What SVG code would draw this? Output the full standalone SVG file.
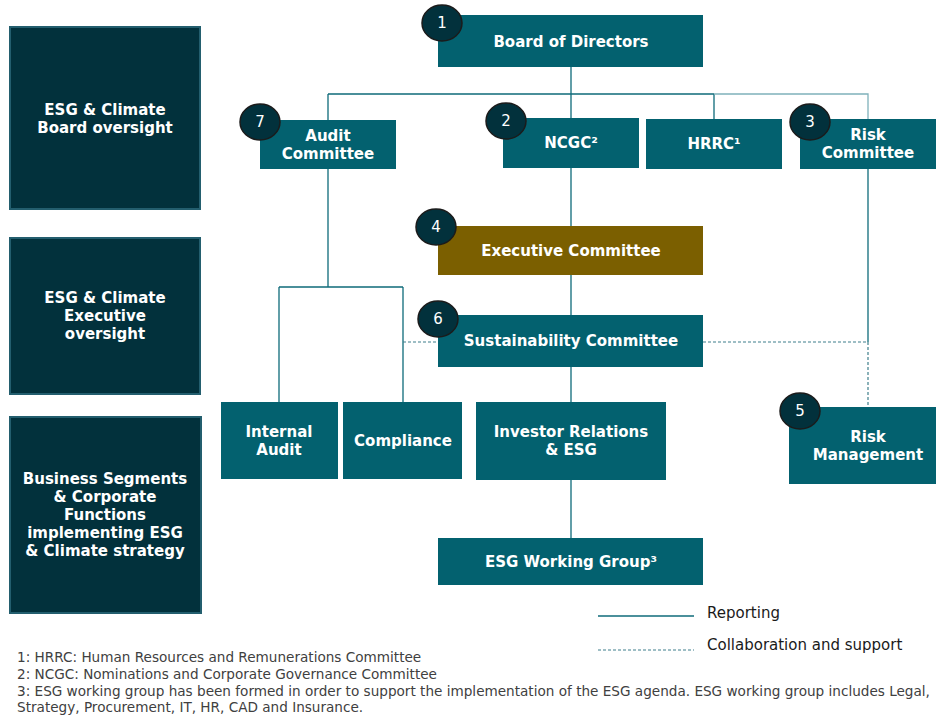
<svg xmlns="http://www.w3.org/2000/svg" width="936" height="726" viewBox="0 0 936 726">
<style>
.side{fill:#02313c;stroke:#235e6e;stroke-width:2}
.box{fill:#03616f}
.exec{fill:#7b5f00}
.t{font-family:"DejaVu Sans",Verdana,sans-serif;font-weight:bold;font-size:15px;fill:#ffffff;text-anchor:middle}
.num{fill:#02313c;stroke:#1b1b1b;stroke-width:1.5}
.n{font-family:"DejaVu Sans",Verdana,sans-serif;font-size:15px;fill:#ffffff;text-anchor:middle}
.ln{stroke:#0f6b7a;stroke-width:1.3;fill:none}
.lnl{stroke:#7fb1ba;stroke-width:1.3;fill:none}
.dash{stroke:#3f7f8b;stroke-width:1.2;stroke-dasharray:3 2;fill:none}
.leg{font-family:"DejaVu Sans",Verdana,sans-serif;font-size:15px;fill:#1a1a1a}
.fn{font-family:"DejaVu Sans",Verdana,sans-serif;font-size:13.6px;fill:#404040}
</style>
<rect width="936" height="726" fill="#ffffff"/>
<g id="connectors">
<path class="ln" d="M571 67V94M328 94H714M328 94V120M571 94V118M714 94V119"/>
<path class="lnl" d="M714 94H868V119"/>
<path class="ln" d="M571 168V226M571 275V315M571 367V402M571 480V538"/>
<path class="ln" d="M328 169V287M279 287H403M279 287V402M403 287V402"/>
<path class="ln" d="M868 169V342"/>
<path class="dash" d="M403 342H438M703 342H868V407"/>
</g>
<g id="side-board"><rect class="side" x="10" y="27" width="190" height="182"/>
<text class="t" x="105" y="110" dy=".36em">ESG &amp; Climate</text><text class="t" x="105" y="128" dy=".36em">Board oversight</text></g>
<g id="side-exec"><rect class="side" x="10" y="238" width="190" height="156"/>
<text class="t" x="105" y="298" dy=".36em">ESG &amp; Climate</text><text class="t" x="105" y="316" dy=".36em">Executive</text><text class="t" x="105" y="334" dy=".36em">oversight</text></g>
<g id="side-business"><rect class="side" x="10" y="417" width="191" height="196"/>
<text class="t" x="105" y="479" dy=".36em">Business Segments</text><text class="t" x="105" y="497" dy=".36em">&amp; Corporate</text><text class="t" x="105" y="515" dy=".36em">Functions</text><text class="t" x="105" y="533" dy=".36em">implementing ESG</text><text class="t" x="105" y="551" dy=".36em">&amp; Climate strategy</text></g>
<g id="board"><rect class="box" x="438" y="15" width="265" height="52"/><text class="t" x="571" y="42" dy=".36em">Board of Directors</text>
<ellipse class="num" cx="442" cy="23" rx="20" ry="18"/><text class="n" x="442" y="23" dy=".36em">1</text></g>
<g id="audit-committee"><rect class="box" x="260" y="120" width="136" height="49"/><text class="t" x="328" y="136" dy=".36em">Audit</text><text class="t" x="328" y="154" dy=".36em">Committee</text>
<ellipse class="num" cx="260" cy="122" rx="20" ry="18"/><text class="n" x="260" y="122" dy=".36em">7</text></g>
<g id="ncgc"><rect class="box" x="503" y="118" width="136" height="50"/><text class="t" x="571" y="143" dy=".36em">NCGC²</text>
<ellipse class="num" cx="506" cy="121" rx="20" ry="18"/><text class="n" x="506" y="121" dy=".36em">2</text></g>
<g id="hrrc"><rect class="box" x="646" y="119" width="136" height="50"/><text class="t" x="714" y="144" dy=".36em">HRRC¹</text></g>
<g id="risk-committee"><rect class="box" x="800" y="119" width="136" height="50"/><text class="t" x="868" y="135" dy=".36em">Risk</text><text class="t" x="868" y="153" dy=".36em">Committee</text>
<ellipse class="num" cx="810" cy="122" rx="20" ry="18"/><text class="n" x="810" y="122" dy=".36em">3</text></g>
<g id="executive-committee"><rect class="exec" x="438" y="226" width="265" height="49"/><text class="t" x="571" y="251" dy=".36em">Executive Committee</text>
<ellipse class="num" cx="436" cy="227" rx="20" ry="18"/><text class="n" x="436" y="227" dy=".36em">4</text></g>
<g id="sustainability-committee"><rect class="box" x="438" y="315" width="265" height="52"/><text class="t" x="571" y="341" dy=".36em">Sustainability Committee</text>
<ellipse class="num" cx="438" cy="319" rx="20" ry="18"/><text class="n" x="438" y="319" dy=".36em">6</text></g>
<g id="internal-audit"><rect class="box" x="221" y="402" width="117" height="77"/><text class="t" x="279" y="432" dy=".36em">Internal</text><text class="t" x="279" y="450" dy=".36em">Audit</text></g>
<g id="compliance"><rect class="box" x="343" y="402" width="119" height="77"/><text class="t" x="403" y="441" dy=".36em">Compliance</text></g>
<g id="investor-relations"><rect class="box" x="476" y="402" width="190" height="78"/><text class="t" x="571" y="432" dy=".36em">Investor Relations</text><text class="t" x="571" y="450" dy=".36em">&amp; ESG</text></g>
<g id="risk-management"><rect class="box" x="789" y="407" width="147" height="77"/><text class="t" x="868" y="437" dy=".36em">Risk</text><text class="t" x="868" y="455" dy=".36em">Management</text>
<ellipse class="num" cx="800" cy="411" rx="20" ry="18"/><text class="n" x="800" y="411" dy=".36em">5</text></g>
<g id="esg-working-group"><rect class="box" x="438" y="538" width="265" height="47"/><text class="t" x="571" y="562" dy=".36em">ESG Working Group³</text></g>
<g id="legend">
<line class="ln" x1="598" y1="616" x2="694" y2="616"/><text class="leg" x="707" y="613" dy=".35em">Reporting</text>
<line class="dash" x1="598" y1="650" x2="694" y2="650"/><text class="leg" x="707" y="645" dy=".35em">Collaboration and support</text>
</g>
<g id="footnotes">
<text class="fn" x="17" y="662">1: HRRC: Human Resources and Remunerations Committee</text>
<text class="fn" x="17" y="679">2: NCGC: Nominations and Corporate Governance Committee</text>
<text class="fn" x="17" y="696">3: ESG working group has been formed in order to support the implementation of the ESG agenda. ESG working group includes Legal,</text>
<text class="fn" x="17" y="712">Strategy, Procurement, IT, HR, CAD and Insurance.</text>
</g>
</svg>
